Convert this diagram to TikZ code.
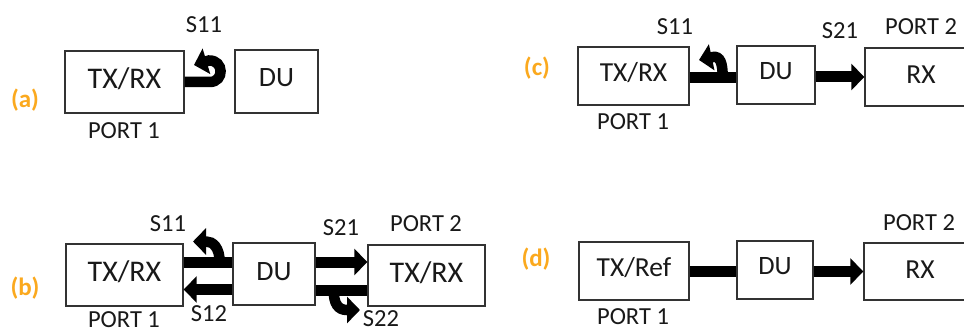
\documentclass[tikz,border=0pt]{standalone}
\usepackage{fontspec}
\setmainfont{Carlito}
\usetikzlibrary{arrows.meta}
\definecolor{tagorange}{HTML}{FBA91E}
\tikzset{
  fs/.style={font=\fontsize{#1}{#1}\selectfont},
  box/.style n args={4}{draw=black!80,line width=1.4pt,fill=white,inner sep=0pt,
    minimum width=#1pt,minimum height=#2pt,text height=0.644*#4pt,text depth=#3pt,
    font=\fontsize{#4}{#4}\selectfont,text=black!90},
  lbl/.style={inner sep=0pt,text height=16pt,text depth=0pt,fs=24.5,text=black!90},
  tag/.style={inner sep=0pt,text=tagorange,font=\fontsize{25}{25}\selectfont\bfseries},
  conn/.style={line width=11pt,black},
  curveline/.style={line width=10.5pt,black},
  arrowhd/.style={-{Triangle[length=13pt,width=26pt]}},
}
\begin{document}
\begin{tikzpicture}[x=1pt,y=-1pt]
\useasboundingbox (0,0) rectangle (964,329);
\clip (0,0) rectangle (964,329);
\fill[white] (0,0) rectangle (964,329);
% (a)
\node[box={119}{62}{6}{30}] (a1) at (124.5,82) {TX/RX};
\node[box={83}{63}{9}{28}] (a2) at (276.5,81.5) {DU};
\node[lbl] (aS) at (204,25) {S11};
\node[lbl] (aP) at (124,130) {PORT 1};
\node[tag] (aT) at (25,100) {(a)};
\coordinate (aE) at (194,65);
\draw[curveline,arrowhd] (a1.east) -- ++(25,0) .. controls +(15,0) and (224,60) .. (209,60.5) -- (aE);
% (b)
\node[box={117}{62}{6}{30}] (b1) at (124.5,275) {TX/RX};
\node[box={82}{62}{6}{28}] (b2) at (274,274) {DU};
\node[box={117}{61}{6}{30}] (b3) at (426.5,275.5) {TX/RX};
\node[lbl] (bS11) at (168,223) {S11};
\node[lbl] (bS21) at (341,227) {S21};
\node[lbl] (bS12) at (209,313) {S12};
\node[lbl] (bS22) at (381,318.5) {S22};
\node[lbl] (bP2) at (426,223.5) {PORT 2};
\node[lbl] (bP1) at (124,319) {PORT 1};
\node[tag] (bT) at (25,288) {(b)};
\coordinate (bE1) at (193,241.5);
\coordinate (bE2) at (360,310);
\draw[conn] ([yshift=12.5pt]b1.east) -- ([yshift=11.5pt]b2.west);
\draw[curveline,arrowhd] ([shift={(36,-12.5)}]b1.east) .. controls +(0,-15) and (213,241.5) .. (206,241.5) -- (bE1);
\draw[conn,arrowhd] ([yshift=-15.5pt]b2.west) -- ([yshift=-14.5pt]b1.east);
\draw[conn,arrowhd] ([yshift=12pt]b2.east) -- ([yshift=13.5pt]b3.west);
\draw[conn] ([yshift=-16.5pt]b2.east) -- ([yshift=-15pt]b3.west);
\draw[curveline,arrowhd] ([shift={(18,16.5)}]b2.east) .. controls +(0,13) and (338,310) .. (347,310) -- (bE2);
% (c)
\node[box={111}{58}{6}{27.5}] (c1) at (633.5,76) {TX/RX};
\node[box={78}{58}{8}{26.5}] (c2) at (776,75) {DU};
\node[box={112}{58}{4}{27.5}] (c3) at (921,77) {RX};
\node[lbl] (cS11) at (675,27) {S11};
\node[lbl] (cS21) at (840,31) {S21};
\node[lbl] (cP2) at (921,27) {PORT 2};
\node[lbl] (cP1) at (633,121) {PORT 1};
\node[tag] (cT) at (537,68) {(c)};
\coordinate (cE) at (699,60);
\draw[conn] ([yshift=-1.5pt]c1.east) -- ([yshift=-2.5pt]c2.west);
\draw[curveline,arrowhd] ([shift={(33,1.5)}]c1.east) .. controls +(0,-15) and (720,56) .. (713,57) -- (cE);
\draw[conn,arrowhd] ([yshift=-2pt]c2.east) -- ([yshift=0pt]c3.west);
% (d)
\node[box={110}{58}{6}{27.5}] (d1) at (634,271) {TX/Ref};
\node[box={76}{58}{8}{26.5}] (d2) at (775,270) {DU};
\node[box={112}{57}{4}{27.5}] (d3) at (920,271.5) {RX};
\node[lbl] (dP2) at (919,222.5) {PORT 2};
\node[lbl] (dP1) at (633,316) {PORT 1};
\node[tag] (dT) at (536,259) {(d)};
\draw[conn] (d1.east) -- (d2.west |- d1.east);
\draw[conn,arrowhd] ([yshift=-1.5pt]d2.east) -- (d3.west);
\end{tikzpicture}
\end{document}
